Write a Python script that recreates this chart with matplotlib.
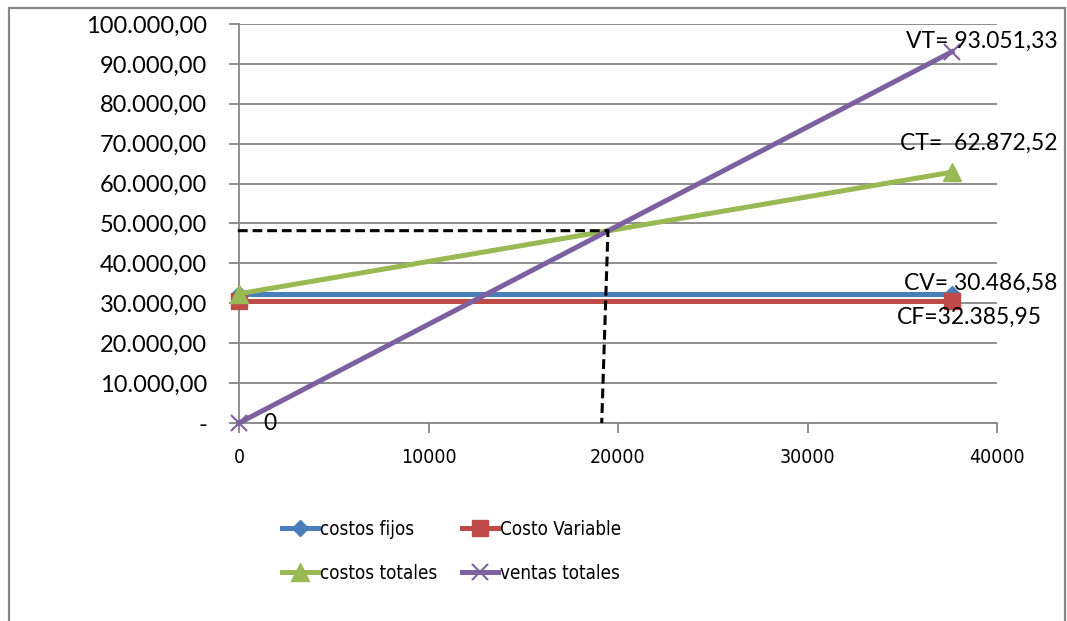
import matplotlib
matplotlib.use('Agg')
import matplotlib.pyplot as plt
from matplotlib.ticker import FuncFormatter
from matplotlib.patches import Rectangle
from matplotlib.font_manager import FontProperties

# punto de equilibrio: datos
unidades = [0, 37625]
costos_fijos = [32385.95, 32385.95]
costo_variable = [30486.58, 30486.58]
costos_totales = [32385.95, 62872.52]
ventas_totales = [0, 93051.33]

equilibrio_x = [-60, 19470, 19140]
equilibrio_y = [48200, 48200, 0]

etiquetas = ['VT= 93.051,33', 'CT=  62.872,52', 'CV= 30.486,58', 'CF=32.385,95', '0']
etiq_x = [35200, 34900, 35100, 34700, 1300]
etiq_y = [95600, 70100, 35100, 26400, 0]

azul = '#4A7EBB'
rojo = '#BE4B48'
verde = '#98B954'
morado = '#7D60A0'
gris = '#868686'

base_font = ['Lato', 'DejaVu Sans']
narrow_x = FontProperties(family='DejaVu Sans', stretch='condensed', size=14)
narrow_leg = FontProperties(family='DejaVu Sans', stretch='condensed', size=13.5)


def formato_es(v, pos):
    if abs(v) < 1e-9:
        return '-'
    s = '{:,.2f}'.format(v)
    return s.replace(',', 'X').replace('.', ',').replace('X', '.')


fig = plt.figure(figsize=(10.67, 6.21), dpi=100)
ax = fig.add_axes([239 / 1067, 1 - 423 / 621, 758 / 1067, 399 / 621])

lw = 3.6
l1, = ax.plot(unidades, costos_fijos, color=azul, lw=lw, marker='D', ms=8,
              label='costos fijos', clip_on=False, zorder=3)
l2, = ax.plot(unidades, costo_variable, color=rojo, lw=lw, marker='s', ms=11,
              label='Costo Variable', clip_on=False, zorder=3)
l3, = ax.plot(unidades, costos_totales, color=verde, lw=lw, marker='^', ms=13,
              label='costos totales', clip_on=False, zorder=4)
l4, = ax.plot(unidades, ventas_totales, color=morado, lw=lw, marker='x', ms=12, mew=1.5,
              label='ventas totales', clip_on=False, zorder=4)

ax.plot(equilibrio_x, equilibrio_y, color='black', lw=2.2, ls=(0, (3.2, 1.6)),
        clip_on=False, zorder=5)

for t, x, y in zip(etiquetas, etiq_x, etiq_y):
    ax.text(x, y, t, fontsize=16.5, family=base_font, va='center', ha='left', zorder=6)

ax.set_xlim(0, 40000)
ax.set_ylim(0, 100000)
ax.set_xticks([0, 10000, 20000, 30000, 40000])
ax.set_yticks(range(0, 100001, 10000))
ax.yaxis.set_major_formatter(FuncFormatter(formato_es))

ax.grid(axis='y', color=gris, lw=1.3, zorder=0)
ax.set_axisbelow(True)
for s in ['top', 'right']:
    ax.spines[s].set_visible(False)
for s in ['left', 'bottom']:
    ax.spines[s].set_color(gris)
    ax.spines[s].set_linewidth(1.3)

ax.tick_params(axis='y', length=7, width=1.3, color=gris, pad=16)
ax.tick_params(axis='x', length=7, width=1.3, color=gris, pad=11)
for lab in ax.get_yticklabels():
    lab.set_fontsize(17)
    lab.set_family(base_font)
for lab in ax.get_xticklabels():
    lab.set_fontproperties(narrow_x)

# orden por filas como en el original
ax.legend([l1, l3, l2, l4], [l1.get_label(), l3.get_label(), l2.get_label(), l4.get_label()],
          loc='upper left', bbox_to_anchor=(0.035, -0.2), ncol=2,
          frameon=False, handlelength=1.9, handletextpad=0.12,
          columnspacing=1.3, labelspacing=1.35, prop=narrow_leg)

fig.patches.append(Rectangle((9 / 1067, -0.01), 1056 / 1067, 1.01 - 8 / 621,
                             transform=fig.transFigure, fill=False,
                             edgecolor=gris, lw=1.6))

fig.savefig('out.png', dpi=100)
